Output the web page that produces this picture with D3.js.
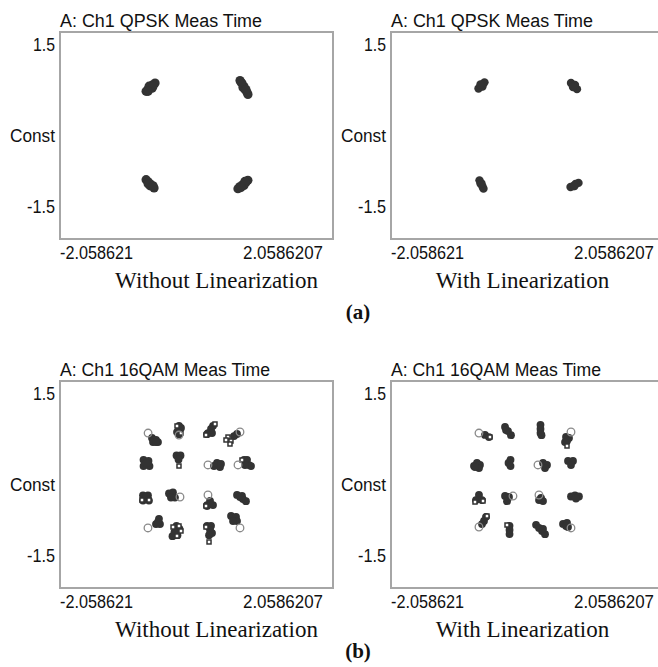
<!DOCTYPE html>
<html><head><meta charset="utf-8">
<script src="https://cdn.jsdelivr.net/npm/d3@7"></script>
<style>html,body{margin:0;padding:0;background:#fff;}svg{display:block;}</style>
</head><body>
<svg id="chart" width="658" height="667"></svg>
<script>
// ---------- data ----------
const xDomain = [-2.058621, 2.0586207];
const yDomain = [-1.5, 1.5];
const xTickLabels = ["-2.058621", "2.0586207"];
const yTickLabels = ["1.5", "-1.5"];
const yAxisName = "Const";
const panelTitles = ["A: Ch1 QPSK Meas Time", "A: Ch1 16QAM Meas Time"];
const captions = ["Without Linearization", "With Linearization"];
const figureLabels = ["(a)", "(b)"];

// clusters: [centerI, centerQ, [[dI,dQ], ...]]
const qpskWithout = [
  [-0.70, 0.70, [[0.075,0.06],[0.03,0.03],[0,0],[-0.03,-0.03],[-0.06,-0.06],[0.03,-0.015],[-0.015,0.015],[0.045,0.015],[-0.03,-0.06]]],
  [0.716, 0.696, [[-0.06,0.10],[-0.03,0.06],[0,0.015],[0.015,-0.03],[0.045,-0.07],[0.06,-0.1],[-0.015,0],[-0.045,0.075],[0.03,-0.03]]],
  [-0.70, -0.70, [[-0.06,0.06],[-0.03,0.03],[0,0],[0.03,-0.03],[0.06,-0.06],[0,-0.03],[-0.03,0],[0.045,-0.03]]],
  [0.70, -0.71, [[0.075,0.06],[0.045,0.03],[0,0],[-0.045,-0.03],[-0.075,-0.06],[0.015,-0.015],[0.03,0.045],[-0.03,-0.045]]]
];
const qpskWith = [
  [-0.694, 0.725, [[0.045,0.045],[0.015,0.015],[-0.015,-0.015],[-0.045,-0.045],[0.015,-0.015],[-0.015,0.015]]],
  [0.701, 0.717, [[-0.045,0.045],[-0.015,0.015],[0.015,-0.015],[0.045,-0.045],[0.015,0.015],[-0.015,-0.015]]],
  [-0.694, -0.71, [[-0.03,0.06],[-0.015,0.015],[0.015,-0.03],[0.03,-0.06],[0,0.015]]],
  [0.709, -0.717, [[0.06,0.03],[0.015,0.015],[-0.015,-0.015],[-0.06,-0.03],[0,-0.015]]]
];
const qamWithout = [
  [-0.641, 0.645, [[-0.03,0.03],[0.03,0],[0.06,-0.03],[-0.015,-0.03],[0.03,-0.03]]],
  [-0.264, 0.79, [[0,0.06],[0,0],[0,-0.06],[-0.03,-0.03],[0.03,0.03]]],
  [0.204, 0.775, [[0.045,0.075],[0.015,0.03],[-0.03,-0.03],[0.03,-0.03],[-0.045,-0.045]]],
  [0.611, 0.732, [[0,0],[-0.045,-0.03]]],
  [-0.754, 0.312, [[-0.045,0.045],[0.03,0.03],[0.045,-0.045],[-0.045,-0.045],[0,0]]],
  [-0.271, 0.391, [[-0.03,0.03],[0.03,0.03],[0,-0.03]]],
  [0.309, 0.283, [[-0.045,-0.015],[0,0.03],[0.045,-0.03],[0.06,0.015]]],
  [0.762, 0.312, [[-0.045,0.045],[0,0.045],[0.03,-0.03],[0.06,-0.045],[-0.03,-0.03]]],
  [-0.762, -0.188, [[-0.045,0.03],[0.03,0.03],[-0.045,-0.045],[0.045,-0.045],[0,0]]],
  [-0.37, -0.159, [[-0.045,0.03],[0.015,0.045],[0.045,-0.03],[-0.015,-0.03]]],
  [0.204, -0.268, [[-0.045,-0.03],[0.045,-0.03],[0,0.03],[-0.045,-0.045]]],
  [0.686, -0.196, [[-0.075,0.045],[-0.03,0.015],[0.015,-0.015],[0.06,-0.045],[0,0.03]]],
  [-0.581, -0.543, [[0.015,0.045],[-0.03,-0.03],[0.03,-0.03],[0,0]]],
  [-0.302, -0.674, [[0,0.075],[0.045,0.03],[-0.03,-0.015],[0.015,-0.06],[-0.06,-0.075]]],
  [0.204, -0.659, [[-0.045,0.06],[0.015,0.06],[0,0],[0.03,-0.045],[-0.015,-0.075]]],
  [0.566, -0.5, [[-0.045,0.045],[0.03,0.03],[0.045,-0.03],[-0.015,-0.03]]]
];
const qamWithoutRings = [[-0.73,0.746],[-0.264,0.717],[0.656,0.761],[0.173,0.283],[0.626,0.283],
  [-0.249,-0.181],[0.173,-0.152],[-0.732,-0.63],[0.656,-0.63]];
const qamWithoutSquares = [[-0.294,0.848],[-0.234,0.746],[0.279,0.877],[0.143,0.717],[0.475,0.688],
  [0.52,0.63],[0.505,0.587],[0.445,0.645],[0.686,0.355],[-0.264,0.268],[-0.822,-0.225],[-0.716,-0.225],
  [0.143,-0.312],[-0.354,-0.616],[-0.264,-0.601],[-0.294,-0.746],[-0.234,-0.674],[0.189,-0.833],[0.143,-0.616]];
const qamWith = [
  [-0.611, 0.703, [[-0.03,0.015],[0.03,-0.015]]],
  [-0.294, 0.775, [[-0.045,0.06],[0,0],[0.045,-0.06],[-0.03,0.015]]],
  [0.196, 0.79, [[0,0.075],[0,0.015],[0,-0.045],[0.015,-0.075]]],
  [0.596, 0.645, [[-0.015,0.045],[0.03,0.03],[0,-0.015],[-0.03,-0.03]]],
  [-0.762, 0.283, [[-0.045,-0.015],[0,0.03],[0.045,0],[0.03,-0.045],[-0.03,-0.03]]],
  [-0.271, 0.312, [[0.015,0.045],[-0.015,0],[0.015,-0.045]]],
  [0.264, 0.283, [[-0.03,0.03],[0.03,0],[0,-0.045]]],
  [0.656, 0.312, [[-0.045,0.03],[0.03,0.03],[0,-0.03]]],
  [-0.732, -0.196, [[0,0.045],[-0.045,-0.03],[0.045,-0.03]]],
  [-0.309, -0.196, [[-0.03,0.03],[0.03,0.015],[0,-0.045]]],
  [0.204, -0.225, [[-0.03,0],[0.03,-0.015],[0,0.03]]],
  [0.716, -0.174, [[-0.06,0],[0,0.015],[0.06,0],[0.015,-0.03]]],
  [-0.656, -0.529, [[0.03,0.06],[0,0],[-0.03,-0.045]]],
  [-0.271, -0.659, [[0,0.06],[0,0],[0,-0.06]]],
  [0.204, -0.645, [[-0.075,0.06],[-0.03,0.015],[0.015,-0.03],[0.06,-0.075],[0.03,0]]],
  [0.581, -0.587, [[-0.045,0.015],[0.015,0.03],[0.03,-0.03],[0,-0.015]]]
];
const qamWithRings = [[-0.732,0.746],[0.656,0.761],[0.158,0.283],[-0.219,-0.167],[0.173,-0.152],
  [-0.732,-0.616],[0.656,-0.63]];
const qamWithSquares = [[-0.566,0.688],[0.596,0.558],[-0.792,-0.254],[-0.671,-0.239],[-0.611,-0.457],[-0.309,-0.587]];

// ---------- layout ----------
const W = 273, H = 207;
const svg = d3.select("#chart");
const panels = [
  {row:0, col:0, left:60,  top:32,  clusters:qpskWithout, rings:[], squares:[], r:4.6},
  {row:0, col:1, left:391, top:32,  clusters:qpskWith,    rings:[], squares:[], r:4.2},
  {row:1, col:0, left:60,  top:381, clusters:qamWithout,  rings:qamWithoutRings, squares:qamWithoutSquares, r:3.9},
  {row:1, col:1, left:391, top:381, clusters:qamWith,     rings:qamWithRings, squares:qamWithSquares, r:3.9}
];
const sansFont = "'Liberation Sans', Arial, sans-serif";
const serifFont = "'Liberation Serif', 'Times New Roman', serif";

const x = d3.scaleLinear().domain(xDomain).range([0, W]);
const y = d3.scaleLinear().domain(yDomain).range([H, 0]);

panels.forEach(p => {
  const g = svg.append("g").attr("transform", `translate(${p.left},${p.top})`);
  // title
  g.append("text").attr("x", 0).attr("y", -5)
    .attr("font-family", sansFont).attr("font-size", 18).attr("fill", "#111")
    .attr("textLength", p.row === 0 ? 202 : 210).attr("lengthAdjust", "spacingAndGlyphs")
    .text(panelTitles[p.row]);
  // frame
  g.append("rect").attr("x", x(xDomain[0])).attr("y", y(yDomain[1]))
    .attr("width", x(xDomain[1]) - x(xDomain[0])).attr("height", y(yDomain[0]) - y(yDomain[1]))
    .attr("fill", "#fff").attr("stroke", "#a6a6a6").attr("stroke-width", 2);
  // y labels
  const yl = g.append("g").attr("font-family", sansFont).attr("font-size", 18).attr("fill", "#111")
    .attr("text-anchor", "end");
  yl.append("text").attr("x", -5).attr("y", y(+yTickLabels[0]) + 13).attr("dy", "0.36em")
    .attr("textLength", 22).attr("lengthAdjust", "spacingAndGlyphs").text(yTickLabels[0]);
  yl.append("text").attr("x", -5).attr("y", y(+yTickLabels[1]) - 32).attr("dy", "0.36em")
    .attr("textLength", 28).attr("lengthAdjust", "spacingAndGlyphs").text(yTickLabels[1]);
  yl.append("text").attr("x", -5).attr("y", y(0)).attr("dy", "0.36em")
    .attr("textLength", 45).attr("lengthAdjust", "spacingAndGlyphs").text(yAxisName);
  // x labels
  const xl = g.append("g").attr("font-family", sansFont).attr("font-size", 18).attr("fill", "#111");
  xl.append("text").attr("x", x(+xTickLabels[0])).attr("y", H + 20)
    .attr("textLength", 73).attr("lengthAdjust", "spacingAndGlyphs").text(xTickLabels[0]);
  xl.append("text").attr("x", x(+xTickLabels[1]) - 10).attr("y", H + 20).attr("text-anchor", "end")
    .attr("textLength", 80).attr("lengthAdjust", "spacingAndGlyphs").text(xTickLabels[1]);
  // caption
  g.append("text").attr("x", p.col === 0 ? 156.5 : 131.5).attr("y", H + 49)
    .attr("text-anchor", "middle").attr("font-family", serifFont).attr("font-size", 23).attr("fill", "#111")
    .text(captions[p.col]);

  // points
  const pts = [];
  p.clusters.forEach(c => c[2].forEach(o => pts.push([c[0] + o[0], c[1] + o[1]])));
  g.append("g").selectAll("circle").data(pts).join("circle")
    .attr("cx", d => x(d[0])).attr("cy", d => y(d[1])).attr("r", p.r).attr("fill", "#333");
  g.append("g").selectAll("rect").data(p.squares).join("rect")
    .attr("x", d => x(d[0]) - 2).attr("y", d => y(d[1]) - 2).attr("width", 4).attr("height", 4)
    .attr("fill", "#fff").attr("stroke", "#333").attr("stroke-width", 1.5);
  g.append("g").selectAll("circle").data(p.rings).join("circle")
    .attr("cx", d => x(d[0])).attr("cy", d => y(d[1])).attr("r", 3.8)
    .attr("fill", "none").attr("stroke", "#8a8a8a").attr("stroke-width", 1.3);
});

// figure labels
svg.append("g").selectAll("text").data(figureLabels).join("text")
  .attr("x", 358).attr("y", (d, i) => i === 0 ? 319 : 658)
  .attr("text-anchor", "middle").attr("font-family", serifFont).attr("font-weight", "bold")
  .attr("font-size", 21).attr("fill", "#111").text(d => d);
</script>
</body></html>
